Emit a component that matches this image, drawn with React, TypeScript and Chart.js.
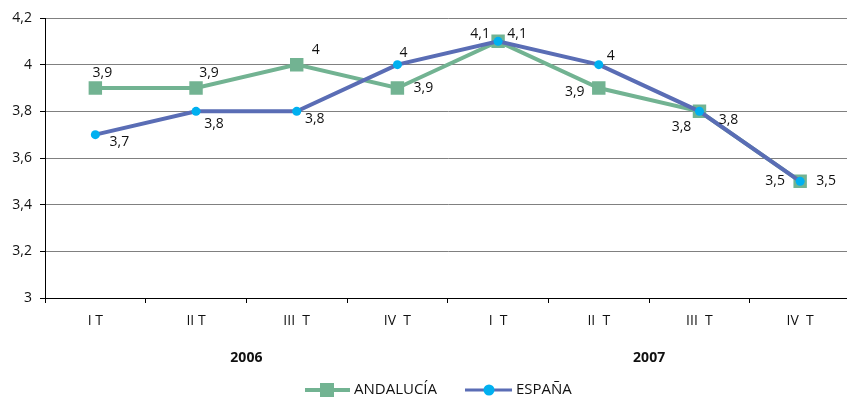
import React, { useEffect, useRef } from "react";
import { Chart, registerables } from "chart.js";

Chart.register(...registerables);

const categories = ["I T", "II T", "III  T", "IV  T", "I  T", "II  T", "III  T", "IV  T"];
const years = ["2006", "2007"];
const andalucia = [3.9, 3.9, 4, 3.9, 4.1, 3.9, 3.8, 3.5];
const espana = [3.7, 3.8, 3.8, 4, 4.1, 4, 3.8, 3.5];
const seriesNames = ["ANDALUCÍA", "ESPAÑA"];

// label offsets (layout only) relative to each point
const andaluciaLabelOffsets = [[7, -15], [13, -15], [19, -15], [26, 0], [-18, -7], [-24, 4], [-18, 16], [-25, 0]];
const espanaLabelOffsets = [[24, 7], [18, 13], [18, 8], [6, -12], [19, -7], [12, -9], [29, 9], [26, 0]];

const GREEN = "#72B392";
const BLUE_LINE = "#5A6DB5";
const CYAN = "#00B0F0";
const FONT = "'Open Sans', 'DejaVu Sans', sans-serif";

const fmt = (v: number) => String(Number(v.toFixed(1))).replace(".", ",");

const overlayPlugin = {
  id: "overlay",
  afterDatasetsDraw(chart: any) {
    const ctx = chart.ctx;
    ctx.save();
    ctx.font = `14px ${FONT}`;
    ctx.fillStyle = "#111";
    ctx.textAlign = "center";
    ctx.textBaseline = "middle";
    const offs = [andaluciaLabelOffsets, espanaLabelOffsets];
    chart.data.datasets.forEach((ds: any, di: number) => {
      const meta = chart.getDatasetMeta(di);
      meta.data.forEach((pt: any, i: number) => {
        const o = offs[di][i];
        ctx.fillText(fmt(ds.data[i]), pt.x + o[0], pt.y + o[1]);
      });
    });
    ctx.restore();
  },
  afterDraw(chart: any) {
    const ctx = chart.ctx;
    const xs = chart.scales.x;
    ctx.save();
    // year labels
    ctx.font = `bold 14px ${FONT}`;
    ctx.fillStyle = "#111";
    ctx.textAlign = "center";
    ctx.textBaseline = "middle";
    years.forEach((y, k) => {
      const a = xs.getPixelForValue(k * 4 + 1);
      const b = xs.getPixelForValue(k * 4 + 2);
      ctx.fillText(y, (a + b) / 2, 358);
    });
    // legend
    const ly = 390;
    ctx.lineWidth = 4;
    ctx.strokeStyle = GREEN;
    ctx.beginPath();
    ctx.moveTo(305, ly);
    ctx.lineTo(350, ly);
    ctx.stroke();
    ctx.fillStyle = GREEN;
    ctx.fillRect(320, ly - 7, 14, 14);
    ctx.strokeStyle = BLUE_LINE;
    ctx.lineWidth = 3;
    ctx.beginPath();
    ctx.moveTo(465, ly);
    ctx.lineTo(512, ly);
    ctx.stroke();
    ctx.fillStyle = CYAN;
    ctx.beginPath();
    ctx.arc(489, ly, 5.5, 0, Math.PI * 2);
    ctx.fill();
    ctx.font = `15px ${FONT}`;
    ctx.fillStyle = "#111";
    ctx.textAlign = "left";
    ctx.fillText(seriesNames[0], 354, ly);
    ctx.fillText(seriesNames[1], 516, ly);
    ctx.restore();
  },
};

export default function App() {
  const ref = useRef<HTMLCanvasElement>(null);
  useEffect(() => {
    if (!ref.current) return;
    const chart = new Chart(ref.current, {
      type: "line",
      data: {
        labels: categories,
        datasets: [
          {
            label: seriesNames[0],
            data: andalucia,
            borderColor: GREEN,
            backgroundColor: GREEN,
            borderWidth: 4,
            pointStyle: "rect",
            pointRadius: 9.5,
            pointHoverRadius: 9.5,
            pointBorderWidth: 0,
            order: 1,
          },
          {
            label: seriesNames[1],
            data: espana,
            borderColor: BLUE_LINE,
            backgroundColor: CYAN,
            pointBackgroundColor: CYAN,
            borderWidth: 4,
            pointStyle: "circle",
            pointRadius: 4.5,
            pointBorderWidth: 0,
            order: 0,
          },
        ],
      },
      options: {
        animation: false,
        responsive: false,
        maintainAspectRatio: false,
        layout: { padding: { top: 18, right: 7, left: 0, bottom: 0 } },
        plugins: { legend: { display: false }, tooltip: { enabled: false } },
        scales: {
          x: {
            offset: true,
            grid: { offset: true, drawOnChartArea: false, drawTicks: true, tickLength: 5, color: "#000" },
            border: { color: "#000", width: 1 },
            ticks: { color: "#111", font: { family: FONT, size: 14 }, padding: 10, maxRotation: 0 },
            afterFit: (s: any) => { s.height = 102; },
          },
          y: {
            min: 3,
            max: 4.2,
            ticks: {
              stepSize: 0.2,
              color: "#111",
              font: { family: FONT, size: 14 },
              padding: 8,
              callback: (v: any) => fmt(Number(v)),
            },
            grid: { color: "#808080", tickLength: 5, tickColor: "#000" },
            border: { color: "#000", width: 1 },
            afterFit: (s: any) => { s.width = 45; },
          },
        },
      },
      plugins: [overlayPlugin],
    });
    return () => chart.destroy();
  }, []);
  return (
    <div style={{ position: "fixed", left: 0, top: 0, width: 847, height: 400, overflow: "hidden", background: "#fff" }}>
      <canvas ref={ref} width={860} height={400} style={{ width: 860, height: 400, display: "block" }} />
    </div>
  );
}
